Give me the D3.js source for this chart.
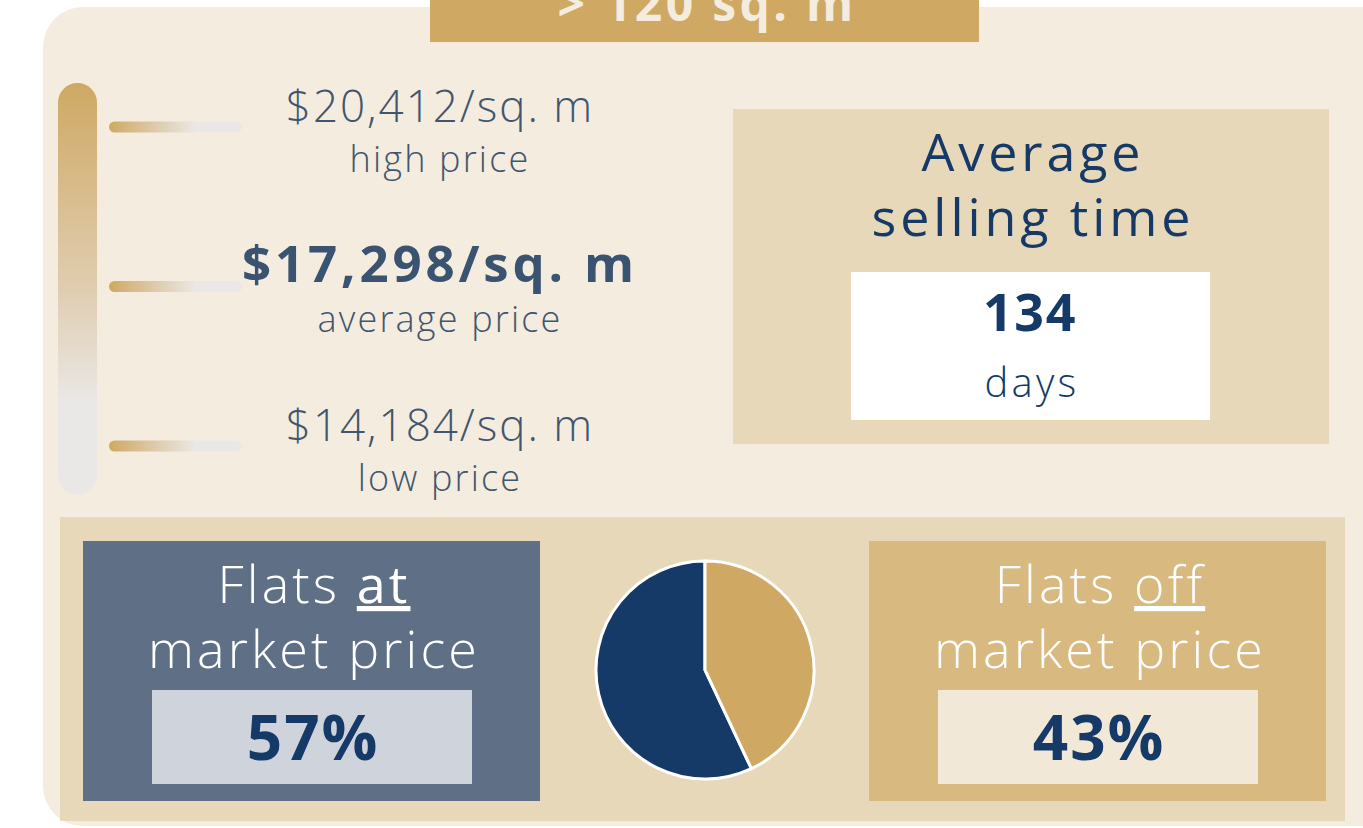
<!DOCTYPE html>
<head>
	<meta charset="utf-8">
	<style>
		body {margin: 0; background: #fff;}
		text {font-family: "Open Sans", sans-serif; letter-spacing: 0.06em;}
		text.bold {letter-spacing: 0.03em;}
	</style>
	<script src="https://d3js.org/d3.v7.min.js" charset="utf-8"></script>
</head>
<body>
	<script>
		// values
		var sizeBand = "> 120 sq. m";
		var priceLabels = ["high price", "average price", "low price"];
		var priceValues = [20412, 17298, 14184];
		var sellingTitle = ["Average", "selling time"];
		var sellingDays = 134;
		var shareWords = ["at", "off"];
		var shareValues = [57, 43];

		var width = 1363,
			height = 828;

		var gold = "#CFA963",
			navy = "#163A68",
			slate = "#41566E";

		var svg = d3.select("body").append("svg")
					.attr("width", width)
					.attr("height", height);

		var defs = svg.append("defs");
		var vg = defs.append("linearGradient").attr("id", "vgrad")
			.attr("x1", 0).attr("y1", 0).attr("x2", 0).attr("y2", 1);
		vg.append("stop").attr("offset", "0%").attr("stop-color", gold);
		vg.append("stop").attr("offset", "50%").attr("stop-color", "#E0CDB0");
		vg.append("stop").attr("offset", "78%").attr("stop-color", "#EAE8E6");
		vg.append("stop").attr("offset", "100%").attr("stop-color", "#EAE8E6");
		var hg = defs.append("linearGradient").attr("id", "hgrad");
		hg.append("stop").attr("offset", "0%").attr("stop-color", gold);
		hg.append("stop").attr("offset", "65%").attr("stop-color", "#EAE8E6");
		hg.append("stop").attr("offset", "100%").attr("stop-color", "#EAE8E6");

		// outer panel
		svg.append("rect")
			.attr("x", 43).attr("y", 7)
			.attr("width", 1360).attr("height", 819)
			.attr("rx", 40)
			.attr("fill", "#F4ECDF");

		// size band header (cut by the top edge, as in the source)
		svg.append("rect")
			.attr("x", 430).attr("y", -10)
			.attr("width", 549).attr("height", 52)
			.attr("fill", gold);
		svg.append("text")
			.attr("class", "bold")
			.attr("x", 707).attr("y", 21)
			.attr("text-anchor", "middle")
			.attr("font-size", "48px")
			.attr("font-weight", 700)
			.attr("fill", "#F4ECDF")
			.style("letter-spacing", "0.07em")
			.text(sizeBand);

		// price scale
		var y = d3.scaleLinear()
				.domain([d3.min(priceValues), d3.max(priceValues)])
				.range([446, 127]);

		svg.append("rect")
			.attr("x", 58).attr("y", 83)
			.attr("width", 39).attr("height", 412)
			.attr("rx", 19.5)
			.attr("fill", "url(#vgrad)");

		var rows = svg.selectAll(".price")
			.data(priceValues)
			.enter()
			.append("g")
			.attr("class", "price")
			.attr("transform", function(d){return "translate(0," + y(d) + ")";});

		rows.append("rect")
			.attr("x", 109).attr("y", -5.5)
			.attr("width", 133).attr("height", 11)
			.attr("rx", 5.5)
			.attr("fill", "url(#hgrad)");

		rows.append("text")
			.attr("x", 440).attr("y", -5)
			.attr("text-anchor", "middle")
			.attr("font-size", function(d, i){return i == 1 ? "51px" : "44px";})
			.attr("font-weight", function(d, i){return i == 1 ? 700 : 300;})
			.attr("fill", function(d, i){return i == 1 ? "#3A5370" : slate;})
			.style("letter-spacing", function(d, i){return i == 1 ? "0.075em" : "0.045em";})
			.text(function(d){return "$" + d3.format(",")(d) + "/sq. m";});

		rows.append("text")
			.attr("x", 440).attr("y", 45)
			.attr("text-anchor", "middle")
			.attr("font-size", "36px")
			.attr("font-weight", 300)
			.attr("fill", slate)
			.text(function(d, i){return priceLabels[i];});

		// average selling time
		svg.append("rect")
			.attr("x", 733).attr("y", 109)
			.attr("width", 596).attr("height", 335)
			.attr("fill", "#E8D8BA");
		svg.selectAll(".title")
			.data(sellingTitle)
			.enter()
			.append("text")
			.attr("class", "title")
			.attr("x", 1033)
			.attr("y", function(d, i){return 171 + i * 65;})
			.attr("text-anchor", "middle")
			.attr("font-size", "52px")
			.attr("fill", navy)
			.style("letter-spacing", "0.075em")
			.text(function(d){return d;});
		svg.append("rect")
			.attr("x", 851).attr("y", 272)
			.attr("width", 359).attr("height", 148)
			.attr("fill", "#fff");
		svg.append("text")
			.attr("class", "bold")
			.attr("x", 1030).attr("y", 331)
			.attr("text-anchor", "middle")
			.attr("font-size", "52px")
			.attr("font-weight", 700)
			.attr("fill", navy)
			.text(sellingDays);
		svg.append("text")
			.attr("x", 1032).attr("y", 397)
			.attr("text-anchor", "middle")
			.attr("font-size", "40px")
			.attr("font-weight", 300)
			.attr("fill", navy)
			.style("letter-spacing", "0.08em")
			.text("days");

		// market price share strip
		svg.append("rect")
			.attr("x", 60).attr("y", 517)
			.attr("width", 1285).attr("height", 304)
			.attr("fill", "#E8D8BA");

		var boxes = [
			{x: 83, fill: "#5F7086", inner: "#CFD4DC"},
			{x: 869, fill: "#D8B980", inner: "#F2E8D8"}
		];

		var cards = svg.selectAll(".card")
			.data(shareValues)
			.enter()
			.append("g")
			.attr("class", "card")
			.attr("transform", function(d, i){return "translate(" + boxes[i].x + ",541)";});

		cards.append("rect")
			.attr("width", 457).attr("height", 260)
			.attr("fill", function(d, i){return boxes[i].fill;});

		var head = cards.append("text")
			.attr("x", 231).attr("y", 62)
			.attr("text-anchor", "middle")
			.attr("font-size", "52px")
			.attr("font-weight", 300)
			.attr("fill", "#fff");
		head.append("tspan").text("Flats ");
		head.append("tspan")
			.attr("text-decoration", "underline")
			.attr("font-weight", function(d, i){return i == 0 ? 400 : 300;})
			.text(function(d, i){return shareWords[i];});

		cards.append("text")
			.attr("x", 231).attr("y", 127)
			.attr("text-anchor", "middle")
			.attr("font-size", "52px")
			.attr("font-weight", 300)
			.attr("fill", "#fff")
			.text("market price");

		cards.append("rect")
			.attr("x", 69)
			.attr("y", 149)
			.attr("width", 320).attr("height", 94)
			.attr("fill", function(d, i){return boxes[i].inner;});

		cards.append("text")
			.attr("class", "bold")
			.attr("x", 230).attr("y", 219)
			.attr("text-anchor", "middle")
			.attr("font-size", "62px")
			.attr("font-weight", 700)
			.attr("fill", navy)
			.text(function(d){return d + "%";});

		// pie: off-market share runs clockwise from the top
		var pie = d3.pie()
				.sort(null)
				.startAngle(0)
				.endAngle(-2 * Math.PI);
		var arc = d3.arc().innerRadius(0).outerRadius(109);

		svg.append("g")
			.attr("transform", "translate(705,670)")
			.selectAll("path")
			.data(pie(shareValues))
			.enter()
			.append("path")
			.attr("d", arc)
			.attr("fill", function(d, i){return i == 0 ? navy : gold;})
			.attr("stroke", "#fff")
			.attr("stroke-width", 3);
	</script>
</body>

</html>
